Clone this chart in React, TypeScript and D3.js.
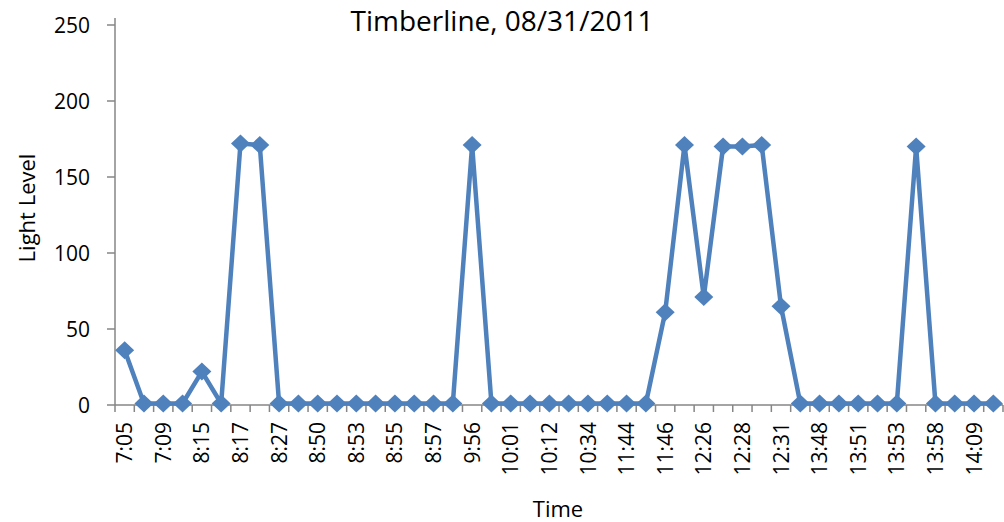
import React from "react";
import * as d3 from "d3";

const categories: string[] = [
  "7:05", "7:07", "7:09", "7:12", "8:15", "8:16", "8:17", "8:20", "8:27", "8:40",
  "8:50", "8:52", "8:53", "8:54", "8:55", "8:56", "8:57", "9:50", "9:56", "9:59",
  "10:01", "10:05", "10:12", "10:20", "10:34", "11:40", "11:44", "11:45", "11:46", "12:20",
  "12:26", "12:27", "12:28", "12:30", "12:31", "13:45", "13:48", "13:50", "13:51", "13:52",
  "13:53", "13:55", "13:58", "14:05", "14:09", "14:12",
];

const lightLevel: number[] = [
  36, 1, 1, 1, 22, 1, 172, 171, 1, 1,
  1, 1, 1, 1, 1, 1, 1, 1, 171, 1,
  1, 1, 1, 1, 1, 1, 1, 1, 61, 171,
  71, 170, 170, 171, 65, 1, 1, 1, 1, 1,
  1, 170, 1, 1, 1, 1,
];

const yTicks: number[] = [0, 50, 100, 150, 200, 250];

const W = 1004;
const H = 522;
const left = 115;
const right = 1003;
const top = 25;
const bottom = 405;
const FONT = "'Open Sans', 'Noto Sans', sans-serif";
const AXIS = "#868686";
const LINE = "#4F81BD";

export default function App() {
  const x = d3.scaleBand<string>().domain(categories).range([left, right]).paddingInner(0).paddingOuter(0);
  const y = d3.scaleLinear().domain([0, 250]).range([bottom, top]);
  const cx = (c: string) => (x(c) as number) + x.bandwidth() / 2;
  const line = d3
    .line<number>()
    .x((_, i) => cx(categories[i]))
    .y((d) => y(d));
  const boundaries = categories.map((c) => x(c) as number).concat([right]);
  const dw = 9.5;
  const dh = 9;

  return (
    <svg width={W} height={H} style={{ position: "absolute", left: 0, top: 0, background: "#fff" }}>
      <text x={502} y={31} textAnchor="middle" fontFamily={FONT} fontSize={28} fill="#000">
        Timberline, 08/31/2011
      </text>
      {/* y axis */}
      <line x1={left} x2={left} y1={top - 7} y2={bottom} stroke={AXIS} strokeWidth={1.5} />
      {yTicks.map((t) => (
        <g key={t}>
          <line x1={left - 8} x2={left} y1={y(t)} y2={y(t)} stroke={AXIS} strokeWidth={1.5} />
          <text x={90} y={y(t)} dy="0.36em" textAnchor="end" fontFamily={FONT} fontSize={21} fill="#000">
            {t}
          </text>
        </g>
      ))}
      {/* x axis */}
      <line x1={left} x2={right} y1={bottom} y2={bottom} stroke={AXIS} strokeWidth={1.5} />
      {boundaries.map((b, i) => (
        <line key={i} x1={b} x2={b} y1={bottom} y2={bottom + 7} stroke={AXIS} strokeWidth={1.5} />
      ))}
      {categories.map((c, i) =>
        i % 2 === 0 ? (
          <text
            key={c}
            transform={`translate(${cx(c)},${422}) rotate(-90)`}
            dy="0.36em"
            textAnchor="end"
            fontFamily={FONT}
            fontSize={21}
            fill="#000"
          >
            {c}
          </text>
        ) : null
      )}
      <text
        transform={`translate(27,208) rotate(-90)`}
        dy="0.36em"
        textAnchor="middle"
        fontFamily={FONT}
        fontSize={22}
        fill="#000"
      >
        Light Level
      </text>
      <text x={558} y={517} textAnchor="middle" fontFamily={FONT} fontSize={22} fill="#000">
        Time
      </text>
      <path d={line(lightLevel) || ""} fill="none" stroke={LINE} strokeWidth={4.5} strokeLinejoin="round" />
      {lightLevel.map((v, i) => {
        const px = cx(categories[i]);
        const py = y(v);
        return (
          <path
            key={i}
            d={`M${px},${py - dh}L${px + dw},${py}L${px},${py + dh}L${px - dw},${py}Z`}
            fill={LINE}
          />
        );
      })}
    </svg>
  );
}
